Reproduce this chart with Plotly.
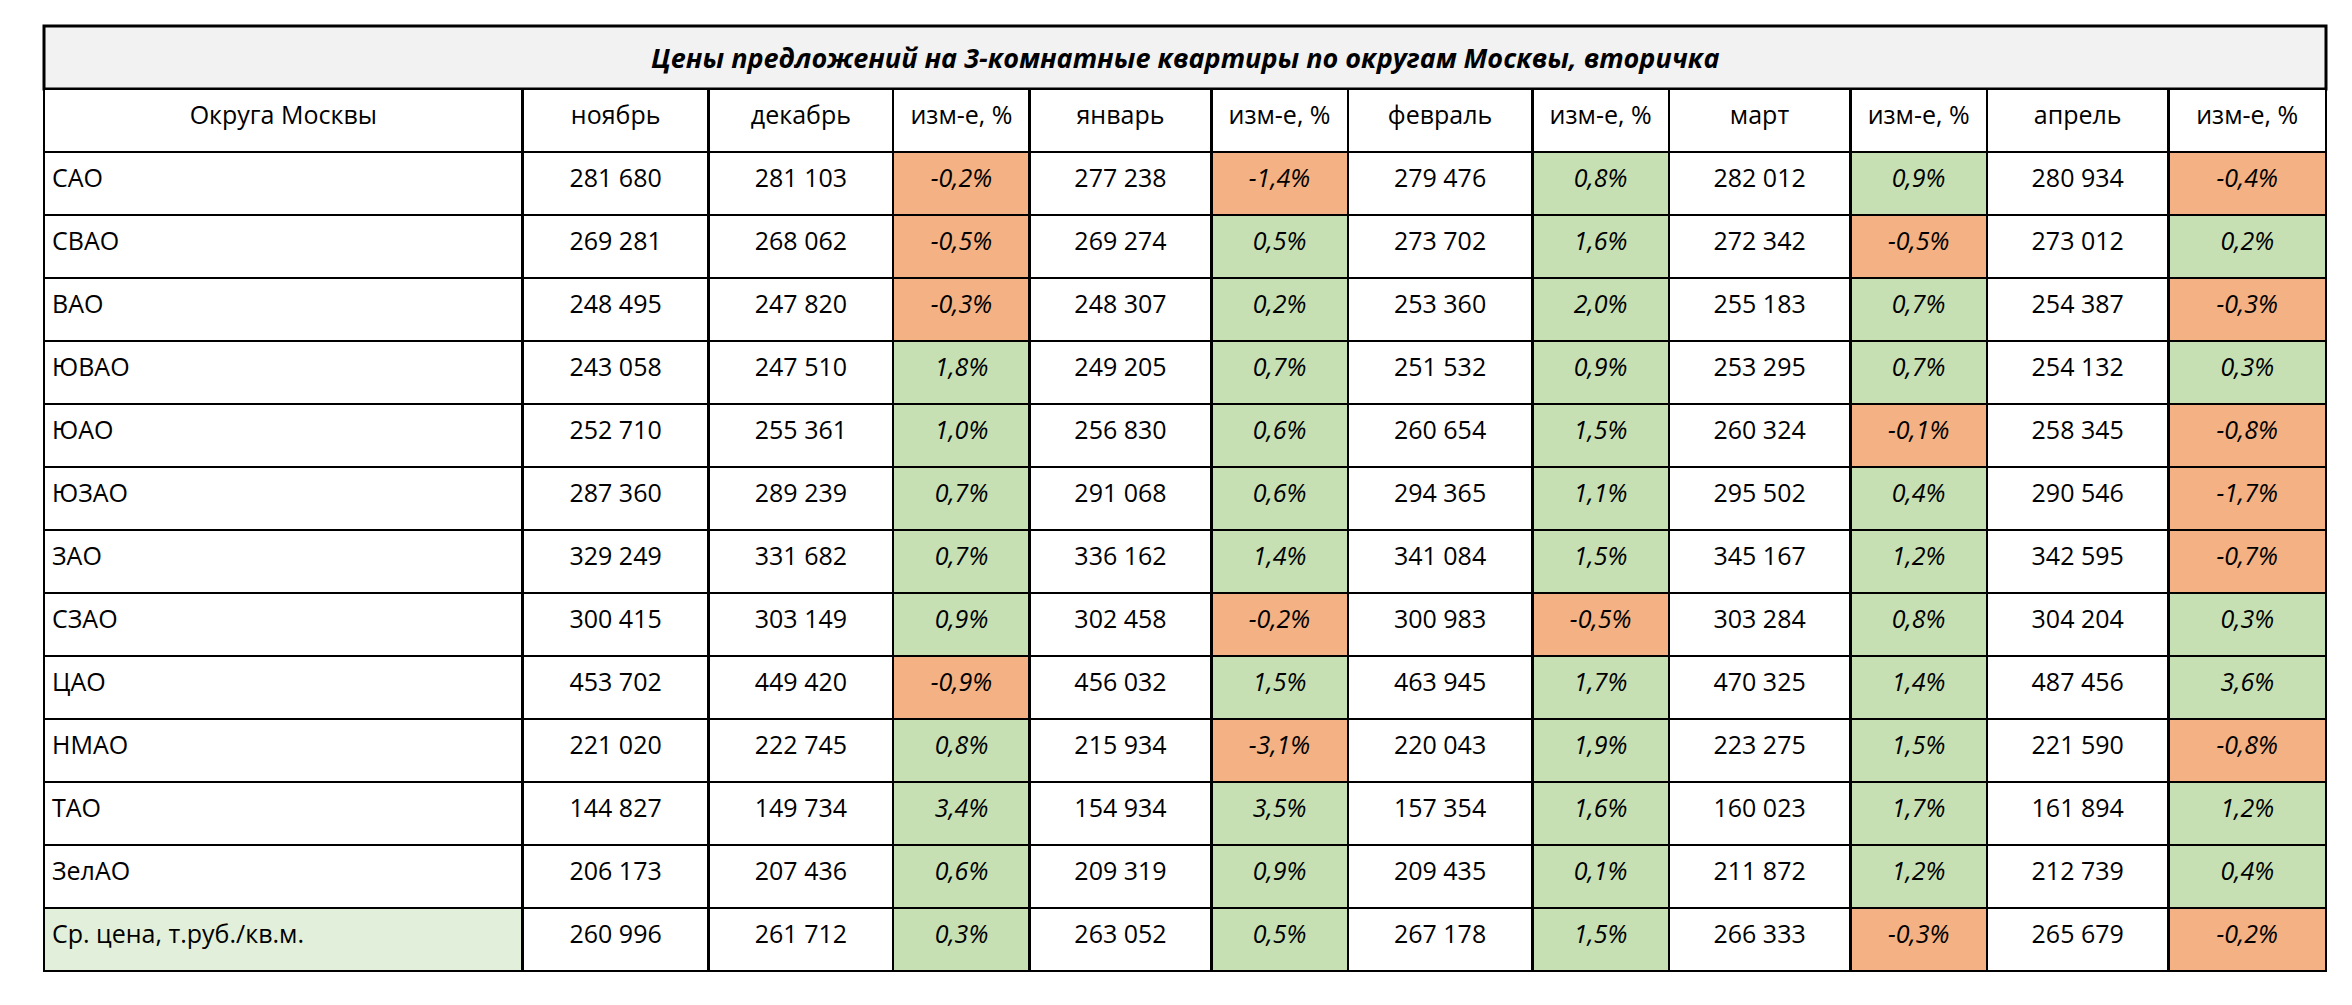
import plotly.graph_objects as go

# Districts and monthly offer prices (rub per sq.m.)
districts = ["САО", "СВАО", "ВАО", "ЮВАО", "ЮАО", "ЮЗАО", "ЗАО", "СЗАО", "ЦАО",
             "НМАО", "ТАО", "ЗелАО", "Ср. цена, т.руб./кв.м."]
months = ["ноябрь", "декабрь", "январь", "февраль", "март", "апрель"]

nov = [281680, 269281, 248495, 243058, 252710, 287360, 329249, 300415, 453702, 221020, 144827, 206173, 260996]
dec = [281103, 268062, 247820, 247510, 255361, 289239, 331682, 303149, 449420, 222745, 149734, 207436, 261712]
jan = [277238, 269274, 248307, 249205, 256830, 291068, 336162, 302458, 456032, 215934, 154934, 209319, 263052]
feb = [279476, 273702, 253360, 251532, 260654, 294365, 341084, 300983, 463945, 220043, 157354, 209435, 267178]
mar = [282012, 272342, 255183, 253295, 260324, 295502, 345167, 303284, 470325, 223275, 160023, 211872, 266333]
apr = [280934, 273012, 254387, 254132, 258345, 290546, 342595, 304204, 487456, 221590, 161894, 212739, 265679]

# month-over-month change, %
chg_dec = [-0.2, -0.5, -0.3, 1.8, 1.0, 0.7, 0.7, 0.9, -0.9, 0.8, 3.4, 0.6, 0.3]
chg_jan = [-1.4, 0.5, 0.2, 0.7, 0.6, 0.6, 1.4, -0.2, 1.5, -3.1, 3.5, 0.9, 0.5]
chg_feb = [0.8, 1.6, 2.0, 0.9, 1.5, 1.1, 1.5, -0.5, 1.7, 1.9, 1.6, 0.1, 1.5]
chg_mar = [0.9, -0.5, 0.7, 0.7, -0.1, 0.4, 1.2, 0.8, 1.4, 1.5, 1.7, 1.2, -0.3]
chg_apr = [-0.4, 0.2, -0.3, 0.3, -0.8, -1.7, -0.7, 0.3, 3.6, -0.8, 1.2, 0.4, -0.2]

title = "Цены предложений на 3-комнатные квартиры по округам Москвы, вторичка"

GREEN = "#c6e0b4"
ORANGE = "#f4b183"
LIGHT = "#e2efda"

W, H = 2352, 1005
X0, X1 = 36, 2318          # table left / right, px
Y_TITLE, Y_HEAD, Y_END = 18, 81, 963


def plain(s):
    # wrap in a tag so every cell is laid out the same way (vertically centred)
    return "<span>" + s + "</span>"


def fmt_price(vals):
    return [plain(f"{v:,}".replace(",", " ")) for v in vals]


def fmt_chg(vals):
    return [("<i>" + f"{v:.1f}%".replace(".", ",") + "</i>") for v in vals]


def chg_colors(vals):
    return [GREEN if v >= 0 else ORANGE for v in vals]


white = ["white"] * len(districts)
first_col_fill = ["white"] * (len(districts) - 1) + [LIGHT]

headers = ["Округа Москвы", "ноябрь", "декабрь", "изм-е, %", "январь", "изм-е, %",
           "февраль", "изм-е, %", "март", "изм-е, %", "апрель", "изм-е, %"]
columns = [[plain(d) for d in districts], fmt_price(nov), fmt_price(dec), fmt_chg(chg_dec),
           fmt_price(jan), fmt_chg(chg_jan), fmt_price(feb), fmt_chg(chg_feb),
           fmt_price(mar), fmt_chg(chg_mar), fmt_price(apr), fmt_chg(chg_apr)]
fills = [first_col_fill, white, white, chg_colors(chg_dec), white, chg_colors(chg_jan),
         white, chg_colors(chg_feb), white, chg_colors(chg_mar), white, chg_colors(chg_apr)]

widths = [319, 124, 123, 91, 121, 91, 123, 91, 121, 91, 121, 105]
font = "Open Sans"
row_h = (Y_END - Y_HEAD) / (len(districts) + 1)

fig = go.Figure(go.Table(
    domain=dict(x=[X0 / W, X1 / W], y=[0, 1 - Y_HEAD / H]),
    columnwidth=widths,
    header=dict(values=[plain(h) for h in headers], height=row_h, align="center",
                fill_color="white", line=dict(color="black", width=2.5),
                font=dict(family=font, size=25, color="black")),
    cells=dict(values=columns, height=row_h,
               align=["left"] + ["center"] * 11,
               fill_color=fills, line=dict(color="black", width=2.5),
               font=dict(family=font, size=25, color="black")),
))

fig.add_shape(type="rect", xref="paper", yref="paper",
              x0=X0 / W, x1=X1 / W, y0=1 - Y_HEAD / H, y1=1 - Y_TITLE / H,
              fillcolor="#f2f2f2", line=dict(color="black", width=3), layer="below")
fig.add_annotation(x=(X0 + X1) / 2 / W, y=1 - (Y_TITLE + Y_HEAD) / 2 / H,
                   xref="paper", yref="paper", yanchor="middle",
                   text="<b><i>" + title + "</i></b>", showarrow=False,
                   font=dict(family=font, size=27, color="black"))

fig.update_layout(width=W, height=H, margin=dict(l=0, r=0, t=0, b=0),
                  paper_bgcolor="white", plot_bgcolor="white")

fig.write_html("out.html")
